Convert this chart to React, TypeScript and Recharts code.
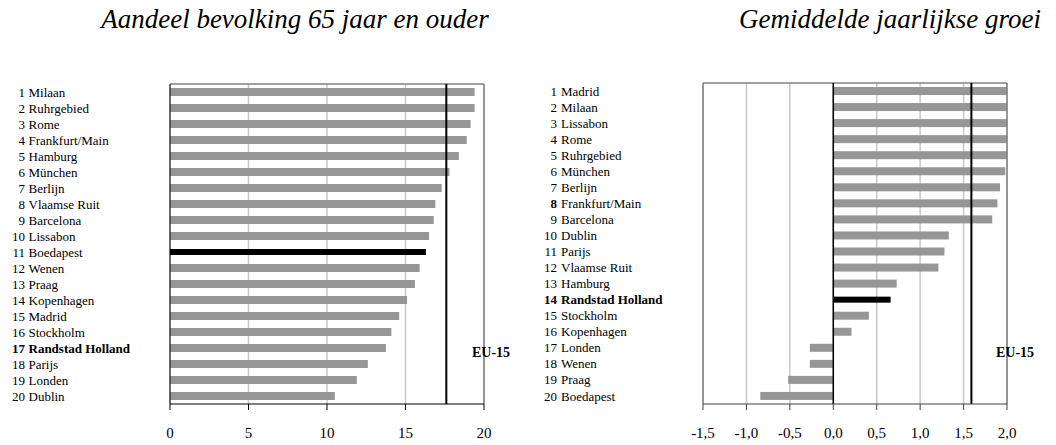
import { BarChart, Bar, XAxis, YAxis, CartesianGrid, ReferenceLine } from "recharts";

// left panel: share of population aged 65+
const leftCities = [
  "Milaan", "Ruhrgebied", "Rome", "Frankfurt/Main", "Hamburg",
  "München", "Berlijn", "Vlaamse Ruit", "Barcelona", "Lissabon",
  "Boedapest", "Wenen", "Praag", "Kopenhagen", "Madrid",
  "Stockholm", "Randstad Holland", "Parijs", "Londen", "Dublin",
];
const leftValues = [
  19.4, 19.4, 19.15, 18.9, 18.4, 17.8, 17.3, 16.9, 16.8, 16.5,
  16.3, 15.9, 15.6, 15.1, 14.6, 14.1, 13.75, 12.6, 11.9, 10.5,
];
const leftTicks = [0, 5, 10, 15, 20];
const leftEu = 17.6;

// right panel: average annual growth
const rightCities = [
  "Madrid", "Milaan", "Lissabon", "Rome", "Ruhrgebied",
  "München", "Berlijn", "Frankfurt/Main", "Barcelona", "Dublin",
  "Parijs", "Vlaamse Ruit", "Hamburg", "Randstad Holland", "Stockholm",
  "Kopenhagen", "Londen", "Wenen", "Praag", "Boedapest",
];
const rightValues = [
  2.05, 2.05, 2.05, 2.05, 2.05, 1.98, 1.92, 1.89, 1.83, 1.33,
  1.28, 1.21, 0.73, 0.66, 0.41, 0.21, -0.27, -0.27, -0.52, -0.84,
];
const rightTicks = [-1.5, -1.0, -0.5, 0, 0.5, 1.0, 1.5, 2.0];
const rightEu = 1.59;

const leftData = leftCities.map((city, i) => ({
  city,
  rank: i + 1,
  value: leftValues[i],
  black: city === "Boedapest",
  bold: city === "Randstad Holland",
  boldRank: city === "Randstad Holland",
}));

const rightData = rightCities.map((city, i) => ({
  city,
  rank: i + 1,
  value: rightValues[i],
  black: city === "Randstad Holland",
  bold: city === "Randstad Holland",
  boldRank: city === "Randstad Holland" || city === "Frankfurt/Main",
}));

const FONT = '"Liberation Serif", "Times New Roman", serif';
const BORDER = "#808080";

const BarShape = (p: any) => {
  const black = p.payload && p.payload.black;
  const h = black ? 6 : p.height;
  const y = p.y + (p.height - h) / 2;
  const x = Math.min(p.x, p.x + p.width);
  const w = Math.abs(p.width);
  return <rect x={x} y={y} width={w} height={h} fill={black ? "#000" : "#969696"} />;
};

const makeTick = (data: any[], numX: number, nameX: number) => (props: any) => {
  const row = data[props.index];
  if (!row) return null;
  return (
    <g>
      <text x={numX} y={props.y} dy="0.35em" textAnchor="end" fontSize={13} fontFamily={FONT}
        fontWeight={row.boldRank ? "bold" : "normal"} fill="#000">
        {row.rank}
      </text>
      <text x={nameX} y={props.y} dy="0.35em" textAnchor="start" fontSize={13} fontFamily={FONT}
        fontWeight={row.bold ? "bold" : "normal"} fill="#000">
        {row.city}
      </text>
    </g>
  );
};

const LeftTick = makeTick(leftData, 25, 28.5);
const RightTick = makeTick(rightData, 29, 33);

const fmtComma = (v: number) => v.toFixed(1).replace(".", ",");

const euStyle: React.CSSProperties = {
  position: "absolute", width: 60, textAlign: "center", fontWeight: "bold",
  fontSize: 14, lineHeight: "18px", fontFamily: FONT,
};

const titleStyle: React.CSSProperties = {
  position: "absolute", top: 4, textAlign: "center", fontStyle: "italic",
  fontSize: 27, lineHeight: "30px", fontFamily: FONT, whiteSpace: "nowrap",
};

export default function App() {
  return (
    <div style={{ position: "absolute", left: 0, top: 0, width: 1056, height: 445, background: "#fff" }}>
      <div style={{ ...titleStyle, left: 45, width: 500 }}>Aandeel bevolking 65 jaar en ouder</div>
      <div style={{ ...titleStyle, left: 640, width: 500 }}>Gemiddelde jaarlijkse groei</div>

      <div style={{ position: "absolute", left: 0, top: 0 }}>
        <BarChart width={528} height={445} data={leftData} layout="vertical"
          margin={{ top: 84, right: 44, bottom: 11, left: 0 }}>
          <CartesianGrid horizontal={false} stroke="#c8c8c8" strokeWidth={1.5} />
          <XAxis type="number" dataKey="value" domain={[0, 20]} ticks={leftTicks} height={30}
            tickSize={6} tickMargin={17} axisLine={{ stroke: "#000" }} tickLine={{ stroke: "#000" }}
            tick={{ fill: "#000", fontSize: 15, fontFamily: FONT }} />
          <YAxis type="category" dataKey="city" width={170} tickLine={false}
            axisLine={{ stroke: "#000" }} tick={LeftTick} interval={0} />
          <ReferenceLine y={leftCities[0]} position="start" stroke={BORDER} strokeWidth={1.5} />
          <ReferenceLine x={20} stroke={BORDER} strokeWidth={1.5} />
          <ReferenceLine x={leftEu} stroke="#000" strokeWidth={2} />
          <Bar dataKey="value" barSize={8} shape={BarShape} isAnimationActive={false} />
        </BarChart>
      </div>
      <div style={{ ...euStyle, left: 461, top: 344 }}>EU-15</div>

      <div style={{ position: "absolute", left: 528, top: 0 }}>
        <BarChart width={528} height={445} data={rightData} layout="vertical"
          margin={{ top: 83, right: 49, bottom: 11, left: 0 }}>
          <CartesianGrid horizontal={false} stroke="#c8c8c8" strokeWidth={1.5} />
          <XAxis type="number" dataKey="value" domain={[-1.5, 2]} allowDataOverflow ticks={rightTicks}
            height={30} tickSize={6} tickMargin={17} tickFormatter={fmtComma}
            axisLine={{ stroke: "#404040" }} tickLine={{ stroke: "#404040" }}
            tick={{ fill: "#000", fontSize: 15, fontFamily: FONT }} />
          <YAxis type="category" dataKey="city" width={175} tickLine={false}
            axisLine={{ stroke: BORDER, strokeWidth: 1.5 }} tick={RightTick} interval={0} />
          <ReferenceLine y={rightCities[0]} position="start" stroke={BORDER} strokeWidth={1.5} />
          <ReferenceLine x={2} stroke={BORDER} strokeWidth={1.5} />
          <ReferenceLine x={0} stroke="#000" strokeWidth={1.5} />
          <ReferenceLine x={rightEu} stroke="#000" strokeWidth={2} />
          <Bar dataKey="value" barSize={8} shape={BarShape} isAnimationActive={false} />
        </BarChart>
      </div>
      <div style={{ ...euStyle, left: 985, top: 344 }}>EU-15</div>
    </div>
  );
}
